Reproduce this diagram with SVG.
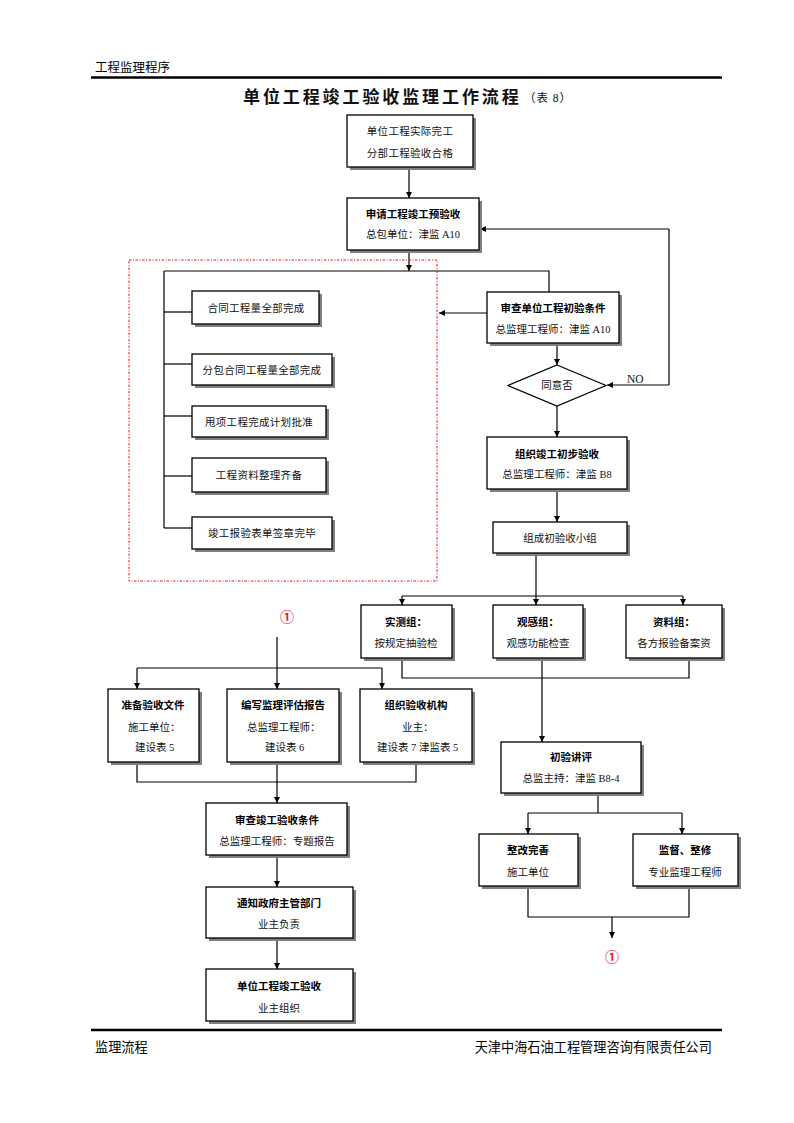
<svg xmlns="http://www.w3.org/2000/svg" width="794" height="1123" viewBox="0 0 794 1123">
<defs>
<marker id="ah" viewBox="0 0 10 10" refX="10" refY="5" markerWidth="6" markerHeight="6" orient="auto" markerUnits="userSpaceOnUse">
<path d="M0,0 L10,5 L0,10 z" fill="#000"/>
</marker>
<style>
.sh{fill:#808080}
.bx{fill:#fff;stroke:#000;stroke-width:1.3}
.ln{fill:none;stroke:#000;stroke-width:1.2}
.ar{fill:none;stroke:#000;stroke-width:1.2;marker-end:url(#ah)}
text{font-family:"Liberation Serif","Noto Sans CJK SC",serif;font-size:10.5px;fill:#111}
.c{text-anchor:middle}
.b{font-weight:bold;fill:#000}
.s{font-family:"Noto Sans CJK SC","Liberation Sans",sans-serif;font-size:12.5px;fill:#000}
.f{font-size:13.2px}
.red{fill:#e8202a;font-size:14px;font-weight:bold;text-anchor:middle}
</style>
</defs>
<rect width="794" height="1123" fill="#fff"/>

<g id="header">
<text class="s" x="95" y="72">工程监理程序</text>
<line x1="91" y1="77.5" x2="722" y2="77.5" stroke="#000" stroke-width="2.5"/>
<text x="243" y="103" style="font-size:17px;font-weight:bold;letter-spacing:2.9px">单位工程竣工验收监理工作流程</text>
<text x="524" y="102" style="font-size:11.5px;letter-spacing:1px">（表 8）</text>
</g>

<g id="footer">
<line x1="91" y1="1030" x2="722" y2="1030" stroke="#000" stroke-width="2.5"/>
<text class="s f" x="95" y="1052">监理流程</text>
<text class="s f" x="712" y="1052" text-anchor="end">天津中海石油工程管理咨询有限责任公司</text>
</g>

<g id="connectors">
<line class="ar" x1="409" y1="167" x2="409" y2="198"/>
<line class="ar" x1="409" y1="250" x2="409" y2="271"/>
<polyline class="ln" points="164,271 549,271 549,292"/>
<line class="ar" x1="487" y1="313" x2="439" y2="313"/>
<line class="ar" x1="557" y1="343" x2="557" y2="365"/>
<polyline class="ln" points="669,385 669,229"/>
<line class="ar" x1="669" y1="385" x2="607" y2="385"/>
<line class="ar" x1="669" y1="229" x2="480" y2="229"/>
<line class="ar" x1="557" y1="406" x2="557" y2="437"/>
<line class="ar" x1="557" y1="489" x2="557" y2="522"/>
<line class="ln" x1="536" y1="553" x2="536" y2="596"/>
<line class="ln" x1="402" y1="596" x2="683" y2="596"/>
<line class="ar" x1="402" y1="596" x2="402" y2="605"/>
<line class="ar" x1="536" y1="596" x2="536" y2="605"/>
<line class="ar" x1="683" y1="596" x2="683" y2="605"/>
<polyline class="ln" points="402,658 402,678 689,678 689,658"/>
<line class="ar" x1="542" y1="658" x2="542" y2="742"/>
<line class="ln" x1="598" y1="793" x2="598" y2="813"/>
<line class="ln" x1="528" y1="813" x2="682" y2="813"/>
<line class="ar" x1="528" y1="813" x2="528" y2="834"/>
<line class="ar" x1="682" y1="813" x2="682" y2="834"/>
<polyline class="ln" points="528,886 528,917 689,917 689,886"/>
<line class="ar" x1="612" y1="917" x2="612" y2="938"/>
<line class="ln" x1="164" y1="271" x2="164" y2="528"/>
<line class="ln" x1="164" y1="312" x2="192" y2="312"/>
<line class="ln" x1="164" y1="364" x2="192" y2="364"/>
<line class="ln" x1="164" y1="416" x2="192" y2="416"/>
<line class="ln" x1="164" y1="476" x2="192" y2="476"/>
<line class="ln" x1="164" y1="528" x2="192" y2="528"/>
<line class="ln" x1="277" y1="637" x2="277" y2="668"/>
<line class="ln" x1="137" y1="668" x2="382" y2="668"/>
<line class="ar" x1="137" y1="668" x2="137" y2="689"/>
<line class="ar" x1="277" y1="668" x2="277" y2="689"/>
<line class="ar" x1="382" y1="668" x2="382" y2="689"/>
<polyline class="ln" points="137,762 137,782 416,782 416,762"/>
<line class="ar" x1="277" y1="762" x2="277" y2="803"/>
<line class="ar" x1="277" y1="855" x2="277" y2="887"/>
<line class="ar" x1="277" y1="938" x2="277" y2="969"/>
</g>

<g id="group-frame">
<rect x="129" y="260" width="308" height="321" fill="none" stroke="#e01818" stroke-width="1" stroke-dasharray="2.5,1.5,1,1.5"/>
</g>

<g id="n1"><rect class="sh" x="350" y="118" width="126" height="52"/><rect class="bx" x="347" y="115" width="126" height="52"/>
<text class="c" x="410" y="135" style="letter-spacing:0.3px">单位工程实际完工</text><text class="c" x="410" y="157" style="letter-spacing:0.3px">分部工程验收合格</text></g>

<g id="n2"><rect class="sh" x="350" y="201" width="132" height="52"/><rect class="bx" x="347" y="198" width="132" height="52"/>
<text class="c b" x="413" y="218">申请工程竣工预验收</text><text class="c" x="413" y="238">总包单位：津监 A10</text></g>

<g id="n3"><rect class="sh" x="490" y="295" width="132" height="51"/><rect class="bx" x="487" y="292" width="132" height="51"/>
<text class="c b" x="553" y="312">审查单位工程初验条件</text><text class="c" x="553" y="333">总监理工程师：津监 A10</text></g>

<g id="d1"><polygon points="557,365 606,385.5 557,406 508,385.5" fill="#fff" stroke="#000" stroke-width="1.2"/>
<text class="c" x="557" y="389">同意否</text>
<text x="627" y="383" style="font-size:11.5px">NO</text></g>

<g id="n4"><rect class="sh" x="490" y="440" width="140" height="52"/><rect class="bx" x="487" y="437" width="140" height="52"/>
<text class="c b" x="557" y="458">组织竣工初步验收</text><text class="c" x="557" y="478">总监理工程师：津监 B8</text></g>

<g id="n5"><rect class="sh" x="496" y="525" width="134" height="31"/><rect class="bx" x="493" y="522" width="134" height="31"/>
<text class="c" x="560" y="542">组成初验收小组</text></g>

<g id="g1"><rect class="sh" x="364" y="608" width="91" height="53"/><rect class="bx" x="361" y="605" width="91" height="53"/>
<text class="c b" x="406" y="626">实测组：</text><text class="c" x="406" y="647">按规定抽验检</text></g>
<g id="g2"><rect class="sh" x="496" y="608" width="90" height="53"/><rect class="bx" x="493" y="605" width="90" height="53"/>
<text class="c b" x="538" y="626">观感组：</text><text class="c" x="538" y="647">观感功能检查</text></g>
<g id="g3"><rect class="sh" x="629" y="608" width="96" height="53"/><rect class="bx" x="626" y="605" width="96" height="53"/>
<text class="c b" x="674" y="626">资料组：</text><text class="c" x="674" y="647">各方报验备案资</text></g>

<g id="n6"><rect class="sh" x="504" y="745" width="140" height="51"/><rect class="bx" x="501" y="742" width="140" height="51"/>
<text class="c b" x="571" y="761">初验讲评</text><text class="c" x="571" y="782">总监主持：津监 B8-4</text></g>

<g id="n7"><rect class="sh" x="482" y="837" width="99" height="52"/><rect class="bx" x="479" y="834" width="99" height="52"/>
<text class="c b" x="528" y="854">整改完善</text><text class="c" x="528" y="876">施工单位</text></g>
<g id="n8"><rect class="sh" x="636" y="837" width="105" height="52"/><rect class="bx" x="633" y="834" width="105" height="52"/>
<text class="c b" x="685" y="854">监督、整修</text><text class="c" x="685" y="876">专业监理工程师</text></g>

<g id="m1"><text class="red" x="612" y="962">①</text></g>

<g id="l1"><rect class="sh" x="195" y="294" width="127" height="33"/><rect class="bx" x="192" y="291" width="127" height="33"/>
<text class="c" x="256" y="312" style="letter-spacing:0.3px">合同工程量全部完成</text></g>
<g id="l2"><rect class="sh" x="195" y="357" width="140" height="31"/><rect class="bx" x="192" y="354" width="140" height="31"/>
<text class="c" x="262" y="374" style="letter-spacing:0.3px">分包合同工程量全部完成</text></g>
<g id="l3"><rect class="sh" x="195" y="409" width="134" height="31"/><rect class="bx" x="192" y="406" width="134" height="31"/>
<text class="c" x="259" y="426" style="letter-spacing:0.3px">甩项工程完成计划批准</text></g>
<g id="l4"><rect class="sh" x="195" y="461" width="134" height="34"/><rect class="bx" x="192" y="458" width="134" height="34"/>
<text class="c" x="259" y="479" style="letter-spacing:0.3px">工程资料整理齐备</text></g>
<g id="l5"><rect class="sh" x="195" y="520" width="140" height="32"/><rect class="bx" x="192" y="517" width="140" height="32"/>
<text class="c" x="262" y="537" style="letter-spacing:0.3px">竣工报验表单签章完毕</text></g>

<g id="m2"><text class="red" x="287" y="622">①</text></g>

<g id="p1"><rect class="sh" x="111" y="692" width="91" height="73"/><rect class="bx" x="108" y="689" width="91" height="73"/>
<text class="c b" x="153" y="709">准备验收文件</text><text x="128" y="731">施工单位：</text><text x="135" y="751">建设表 5</text></g>
<g id="p2"><rect class="sh" x="230" y="692" width="112" height="73"/><rect class="bx" x="227" y="689" width="112" height="73"/>
<text class="c b" x="283" y="709">编写监理评估报告</text><text x="247" y="731">总监理工程师：</text><text x="265" y="751">建设表 6</text></g>
<g id="p3"><rect class="sh" x="363" y="692" width="112" height="73"/><rect class="bx" x="360" y="689" width="112" height="73"/>
<text class="c b" x="416" y="709">组织验收机构</text><text x="402" y="731">业主：</text><text x="377" y="751">建设表 7 津监表 5</text></g>

<g id="q1"><rect class="sh" x="209" y="806" width="141" height="52"/><rect class="bx" x="206" y="803" width="141" height="52"/>
<text class="c b" x="277" y="824">审查竣工验收条件</text><text class="c" x="277" y="845">总监理工程师：专题报告</text></g>
<g id="q2"><rect class="sh" x="209" y="890" width="147" height="51"/><rect class="bx" x="206" y="887" width="147" height="51"/>
<text class="c b" x="279" y="907">通知政府主管部门</text><text class="c" x="279" y="928">业主负责</text></g>
<g id="q3"><rect class="sh" x="209" y="972" width="147" height="52"/><rect class="bx" x="206" y="969" width="147" height="52"/>
<text class="c b" x="279" y="990">单位工程竣工验收</text><text class="c" x="279" y="1012">业主组织</text></g>
</svg>
